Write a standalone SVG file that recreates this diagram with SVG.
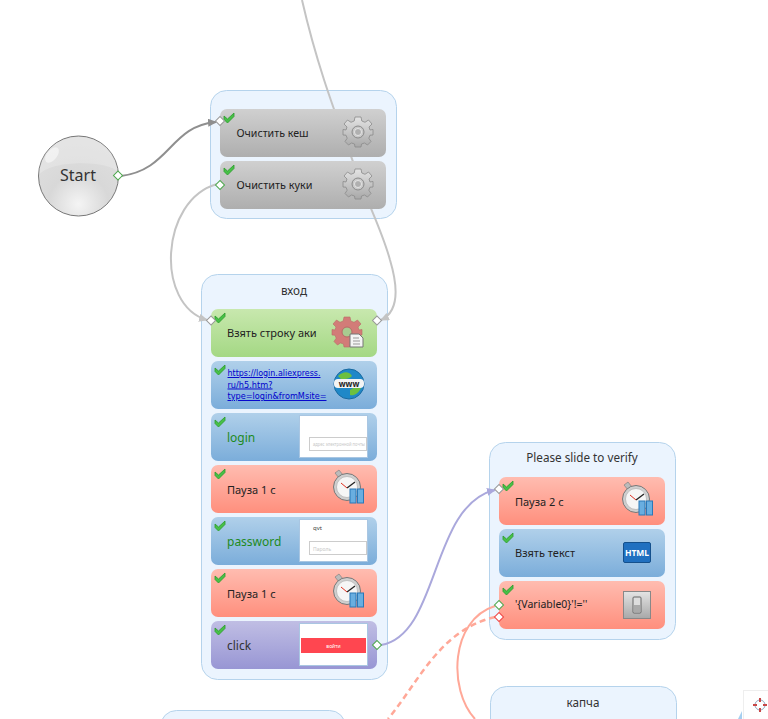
<svg xmlns="http://www.w3.org/2000/svg" width="768" height="719" viewBox="0 0 768 719">
<style>
text{font-family:"Noto Sans","DejaVu Sans",sans-serif;font-size:11px;fill:#222}
.grp{fill:#ebf4fe;stroke:#b5d3ec;stroke-width:1}
.title{font-size:11.700px;text-anchor:middle;fill:#333}
.green{fill:#1e8a1e;font-size:12px}
.con{fill:none;stroke-width:2}
.link{fill:#00c;text-decoration:underline;font-size:9.500px;font-family:"DejaVu Sans",sans-serif}
.shot{fill:#fff;stroke:#a9c6e2;stroke-width:1}
</style>
<defs>
<linearGradient id="gGrey" x1="0" y1="0" x2="0" y2="1"><stop offset="0" stop-color="#d0d0d0"/><stop offset="1" stop-color="#aeaeae"/></linearGradient>
<linearGradient id="gGreen" x1="0" y1="0" x2="0" y2="1"><stop offset="0" stop-color="#c8e8ae"/><stop offset="1" stop-color="#a4d884"/></linearGradient>
<linearGradient id="gBlue" x1="0" y1="0" x2="0" y2="1"><stop offset="0" stop-color="#b0d0ea"/><stop offset="1" stop-color="#7badda"/></linearGradient>
<linearGradient id="gRed" x1="0" y1="0" x2="0" y2="1"><stop offset="0" stop-color="#ffbcb0"/><stop offset="1" stop-color="#ff8f7d"/></linearGradient>
<linearGradient id="gPurple" x1="0" y1="0" x2="0" y2="1"><stop offset="0" stop-color="#c0bee4"/><stop offset="1" stop-color="#9896d4"/></linearGradient>
<radialGradient id="gStart" cx="0.5" cy="0.85" r="0.75"><stop offset="0" stop-color="#f4f4f4"/><stop offset="0.5" stop-color="#d8d8d8"/><stop offset="1" stop-color="#dedede"/></radialGradient>
<linearGradient id="gMetal" x1="0" y1="0" x2="0" y2="1"><stop offset="0" stop-color="#e4e4e4"/><stop offset="1" stop-color="#a8a8a8"/></linearGradient>
<marker id="aGrey" markerWidth="10" markerHeight="8" refX="8" refY="4" orient="auto" markerUnits="userSpaceOnUse"><path d="M0 0L9 4L0 8Z" fill="#8f8f8f"/></marker>
<marker id="aLight" markerWidth="10" markerHeight="8" refX="8" refY="4" orient="auto" markerUnits="userSpaceOnUse"><path d="M0 0L9 4L0 8Z" fill="#c4c4c4"/></marker>
<marker id="aPurple" markerWidth="10" markerHeight="8" refX="8" refY="4" orient="auto" markerUnits="userSpaceOnUse"><path d="M0 0L9 4L0 8Z" fill="#aaa8dc"/></marker>
<g id="check"><path d="M-5 -2L-1.500 1L5 -5V-1.500L-1.500 5L-5 1.500Z" fill="#47c047" stroke="#2c9a2c" stroke-width="0.800"/></g>
<g id="portW"><rect x="-3.200" y="-3.200" width="6.400" height="6.400" transform="rotate(45)" fill="#fff" stroke="#999" stroke-width="1"/></g>
<g id="portG"><rect x="-3.200" y="-3.200" width="6.400" height="6.400" transform="rotate(45)" fill="#fff" stroke="#4fa84f" stroke-width="1"/></g>
<g id="portR"><rect x="-3.200" y="-3.200" width="6.400" height="6.400" transform="rotate(45)" fill="#fff" stroke="#ee4444" stroke-width="1"/></g>
<path id="gearPath" d="M-3 -15H3L3.800 -11L7 -9.700L10.500 -12L14 -8L11 -5L12 -2L15 -2.500V3L12 3.200L10.800 6.200L13 9.500L9.500 13L6.500 11L3.500 12L3 15H-3L-3.500 12L-6.500 11L-9.500 13L-13 9.500L-10.800 6.200L-12 3.200L-15 3V-2.500L-12 -2L-11 -5L-14 -8L-10.500 -12L-7 -9.700L-3.800 -11Z"/>
<g id="gear">
<use href="#gearPath" fill="url(#gMetal)" stroke="#8a8a8a" stroke-width="0.800"/>
<circle r="6" fill="#c9c9c9" stroke="#8a8a8a"/>
<circle r="3.500" fill="#b0b0b0" stroke="#fff" stroke-width="0.600"/>
</g>
<g id="timer">
<path d="M-12 -14L-8 -17L-4 -12L-8 -9Z" fill="#bbb" stroke="#777" stroke-width="0.600"/>
<circle r="13.500" fill="#cfcfcf" stroke="#777" stroke-width="1"/>
<circle r="10.500" fill="#f6f6f6" stroke="#aaa" stroke-width="0.600"/>
<path d="M0 1L8 -5" stroke="#222" stroke-width="1.300" fill="none"/>
<path d="M0 1L-6 -4" stroke="#e03020" stroke-width="1" fill="none"/>
<rect x="3" y="2" width="6" height="14" fill="#69aee0" stroke="#2a78b8"/>
<rect x="10.500" y="2" width="6" height="14" fill="#69aee0" stroke="#2a78b8"/>
</g>
<g id="sNode"><rect width="166" height="48" rx="7"/></g>
</defs>

<rect width="768" height="719" fill="#fff"/>

<g id="group-clear"><rect class="grp" x="210.500" y="90.500" width="186" height="128" rx="16"/></g>
<g id="group-login"><rect class="grp" x="201.500" y="274.500" width="186" height="405" rx="16"/><text class="title" x="294" y="295">вход</text></g>
<g id="group-slide"><rect class="grp" x="489.500" y="442.500" width="186" height="197" rx="16"/><text class="title" x="582" y="462">Please slide to verify</text></g>
<g id="group-captcha"><rect class="grp" x="490.500" y="686.500" width="186" height="60" rx="16"/><text class="title" x="583" y="707">капча</text></g>
<g id="group-bottom"><rect class="grp" x="160.500" y="710.500" width="185" height="60" rx="16"/></g>

<g id="connectors">
<path class="con" stroke="#c4c4c4" d="M302 0C318 70 338 120 356 170C366 200 382 230 390 260C399 290 398 312 381 320" marker-end="url(#aLight)"/>
<path class="con" stroke="#8f8f8f" d="M121 176C170 170 170 126 216 122" marker-end="url(#aGrey)"/>
<path class="con" stroke="#c4c4c4" d="M217 184C160 200 155 305 207 320" marker-end="url(#aLight)"/>
<path class="con" stroke="#aaa8dc" d="M381 645C440 635 430 505 495 490" marker-end="url(#aPurple)"/>
<path class="con" stroke="#ffa898" d="M495 606C450 620 448 690 475 719"/>
<path class="con" stroke="#ffa898" style="stroke-width:2.500" stroke-dasharray="6 4" d="M495 617C440 630 420 680 388 719"/>
</g>

<g id="node-start">
<circle cx="78.500" cy="176" r="40" fill="url(#gStart)" stroke="#777" stroke-width="1"/>
<path d="M39 175C50 160 108 160 118 172C115 150 100 137 78 137C55 137 39 155 39 175Z" fill="#fff" opacity="0.200"/>
<ellipse cx="52" cy="155" rx="5" ry="9" transform="rotate(40 52 155)" fill="#fff" opacity="0.500"/>
<text x="78" y="181" text-anchor="middle" style="font-size:16px;fill:#333">Start</text>
<use href="#portG" x="118" y="175.500"/>
</g>

<g id="node-clear-cache">
<use href="#sNode" x="220" y="109" fill="url(#gGrey)"/>
<use href="#gear" x="358" y="132"/>
<text x="236.500" y="137" textLength="72" lengthAdjust="spacingAndGlyphs">Очистить кеш</text>
<use href="#check" x="229" y="118"/><use href="#portW" x="220" y="121"/>
</g>
<g id="node-clear-cookies">
<use href="#sNode" x="220" y="161" fill="url(#gGrey)"/>
<use href="#gear" x="358" y="184"/>
<text x="236.500" y="189" textLength="76" lengthAdjust="spacingAndGlyphs">Очистить куки</text>
<use href="#check" x="229" y="170"/><use href="#portG" x="220" y="185"/>
</g>

<g id="node-take-line">
<use href="#sNode" x="211" y="309" fill="url(#gGreen)"/>
<use href="#gearPath" x="347" y="332" fill="#d27c78" stroke="#b86a66" stroke-width="0.600"/>
<circle cx="347" cy="332" r="5" fill="#a8cc90" stroke="#b86a66"/>
<path d="M350 334H359L363 338V347H350Z" fill="#f4f4f4" stroke="#777"/>
<path d="M353 338H359M353 341H360M353 344H360" stroke="#999" fill="none"/>
<text x="227" y="337">Взять строку аки</text>
<use href="#check" x="220" y="318"/><use href="#portW" x="211" y="320.500"/><use href="#portW" x="377" y="320.500"/>
</g>
<g id="node-url">
<use href="#sNode" x="211" y="361" fill="url(#gBlue)"/>
<circle cx="349" cy="384" r="15" fill="#1f88c8" stroke="#1a6aa0"/>
<path d="M338 376C344 370 350 372 352 376C348 380 345 378 342 380Z M350 390C356 386 360 386 361 388C358 394 354 396 350 395Z" fill="#6cc040"/>
<rect x="334" y="379" width="30" height="9" rx="4" fill="#f4f4f4"/>
<text x="349" y="386.500" text-anchor="middle" style="font-size:8px;font-weight:bold;fill:#222">www</text>
<text class="link" x="227.500" y="376" textLength="93" lengthAdjust="spacingAndGlyphs">https://login.aliexpress.</text>
<text class="link" x="227.500" y="387.500" textLength="45" lengthAdjust="spacingAndGlyphs">ru/h5.htm?</text>
<text class="link" x="227.500" y="399" textLength="99" lengthAdjust="spacingAndGlyphs">type=login&amp;fromMsite=</text>
<use href="#check" x="220" y="370"/>
</g>
<g id="node-login">
<use href="#sNode" x="211" y="413" fill="url(#gBlue)"/>
<rect class="shot" x="299.500" y="415.500" width="68" height="42"/>
<rect x="309.500" y="437.500" width="57" height="13" fill="#fff" stroke="#ccc"/>
<text x="313" y="446" style="font-size:5px;fill:#c8c8c8" textLength="52" lengthAdjust="spacingAndGlyphs">адрес электронной почты</text>
<text class="green" x="227" y="442">login</text>
<use href="#check" x="220" y="422"/>
</g>
<g id="node-pause1">
<use href="#sNode" x="211" y="465" fill="url(#gRed)"/>
<use href="#timer" x="347" y="487"/>
<text x="227" y="494">Пауза 1 с</text>
<use href="#check" x="220" y="474"/>
</g>
<g id="node-password">
<use href="#sNode" x="211" y="517" fill="url(#gBlue)"/>
<rect class="shot" x="299.500" y="519.500" width="68" height="42"/>
<rect x="309.500" y="541.500" width="57" height="13" fill="#fff" stroke="#ccc"/>
<text x="313" y="530" style="font-size:6px;fill:#444">qvt</text>
<text x="313" y="551" style="font-size:5px;fill:#c8c8c8">Пароль</text>
<text class="green" x="227" y="546">password</text>
<use href="#check" x="220" y="526"/>
</g>
<g id="node-pause2">
<use href="#sNode" x="211" y="569" fill="url(#gRed)"/>
<use href="#timer" x="347" y="591"/>
<text x="227" y="598">Пауза 1 с</text>
<use href="#check" x="220" y="578"/>
</g>
<g id="node-click">
<use href="#sNode" x="211" y="621" fill="url(#gPurple)"/>
<rect class="shot" x="299.500" y="623.500" width="68" height="42" stroke="#b0b0d0"/>
<rect x="301" y="638" width="65" height="15" fill="#ff4650"/>
<text x="333.500" y="648" text-anchor="middle" style="font-size:5px;fill:#fff">войти</text>
<text x="227" y="650" style="font-size:12px;fill:#333">click</text>
<use href="#check" x="220" y="630"/><use href="#portG" x="377" y="645"/>
</g>

<g id="node-pause-2s">
<use href="#sNode" x="499" y="477" fill="url(#gRed)"/>
<use href="#timer" x="636" y="499"/>
<text x="515" y="506">Пауза 2 с</text>
<use href="#check" x="508" y="486"/><use href="#portW" x="499" y="489"/>
</g>
<g id="node-take-text">
<use href="#sNode" x="499" y="529" fill="url(#gBlue)"/>
<rect x="623.500" y="542.500" width="27" height="20" rx="1.500" fill="#2070c0" stroke="#14508c"/>
<text x="637" y="556" text-anchor="middle" style="font-size:8.500px;font-weight:bold;fill:#fff">HTML</text>
<text x="515" y="557">Взять текст</text>
<use href="#check" x="508" y="538"/>
</g>
<g id="node-condition">
<use href="#sNode" x="499" y="581" fill="url(#gRed)"/>
<rect x="623.500" y="591.500" width="27" height="27" fill="url(#gMetal)" stroke="#888"/>
<rect x="633" y="597" width="8" height="16" rx="1" fill="#ddd" stroke="#666"/>
<rect x="634" y="605" width="6" height="7" fill="#aaa"/>
<text x="515" y="608" style="font-size:10.500px">'{Variable0}'!=''</text>
<use href="#check" x="508" y="590"/><use href="#portG" x="499" y="605"/><use href="#portR" x="499" y="617"/>
</g>

<g id="view-control">
<path d="M738 719L742 711V719Z" fill="#a6cff0"/>
<rect x="743.500" y="690.500" width="30" height="40" fill="#fff" stroke="#eee"/>
<g fill="none" stroke="#c84848" stroke-width="2">
<circle cx="760" cy="705" r="5" stroke="#8fa8c0" stroke-width="1"/>
<path d="M760 698V702M760 708V712M753 705H757M763 705H767"/>
</g>
</g>
</svg>
